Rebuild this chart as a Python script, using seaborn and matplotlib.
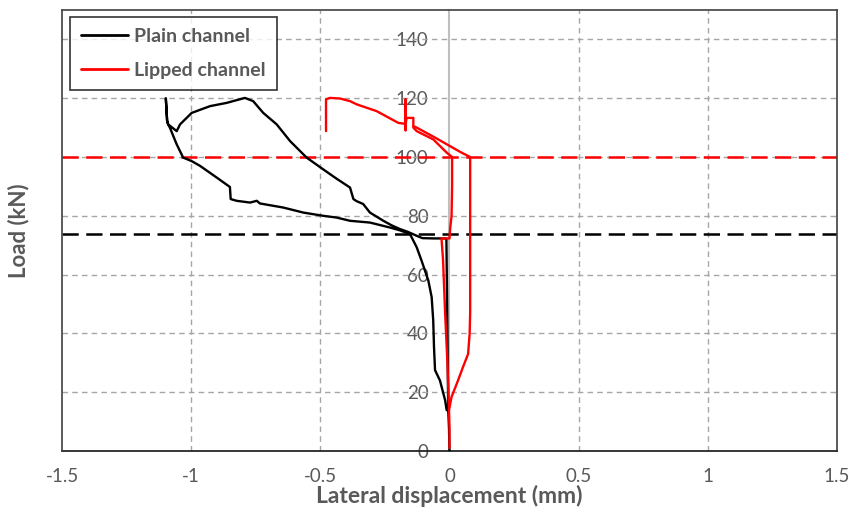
import pandas as pd
import numpy as np
import matplotlib.pyplot as plt
import seaborn as sns
from matplotlib.lines import Line2D

# lateral displacement (mm) and load (kN)
# plain channel, segment 0 only
plain_x = [0.0, -0.002, -0.005, -0.008, -0.012, -0.06, -0.105,
           -0.127, -0.16, -0.192, -0.225, -0.256, -0.308, -0.334, -0.36, -0.372,
           -0.385, -0.44, -0.489, -0.553, -0.617, -0.669, -0.721, -0.76, -0.792,
           -0.863, -0.927, -0.998, -1.043, -1.056, -1.089, -1.093, -1.098, -1.098,
           -1.093, -1.089, -1.082, -1.056, -1.031, -0.998, -0.966, -0.901, -0.85,
           -0.847, -0.824, -0.772, -0.746, -0.734, -0.643, -0.566, -0.489, -0.437,
           -0.385, -0.308, -0.23, -0.19, -0.153, -0.127, -0.108, -0.082, -0.069,
           -0.063, -0.06, -0.056, -0.037, -0.017, -0.011, -0.005]
plain_y = [0, 8, 14, 40, 72.3, 72.3, 72.4,
           73.2, 74.5, 75.5, 76.8, 78.3, 81.1, 84, 85, 85.7,
           89.6, 92.8, 95.8, 99.8, 105.4, 111.1, 115, 119, 120.1,
           118.4, 117.3, 115, 111.1, 108.8, 111.1, 112.2, 119.6, 120,
           112.2, 111.1, 109.9, 104.3, 99.8, 98.6, 97, 93, 89.8,
           85.7, 85.1, 84.5, 85.1, 84.2, 82.8, 81.1, 80, 79.4,
           78.3, 77.7, 76, 75, 73.8, 69.3, 64.7, 58, 52.3,
           44.4, 35.4, 27.5, 24, 17.3, 13.9, 14]
plain_seg = [0] * len(plain_x)

# lipped channel, two segments
lipped_x = [0.0, 0.0, -0.002, -0.008, -0.017, -0.025, -0.031, 0.0, 0.003, 0.008,
            0.01, 0.01, -0.011, -0.063, -0.127, -0.14, -0.14, -0.166, -0.17,
            -0.17, -0.17, -0.172, -0.198, -0.282, -0.359, -0.385, -0.424,
            -0.463, -0.478, -0.478,
            -0.002, 0.008, 0.033, 0.052, 0.072, 0.078, 0.08, 0.08, 0.08,
            0.04, 0.002, -0.06, -0.127, -0.14]
lipped_y = [1, 8, 14, 30, 47, 65, 72.3, 72.3, 76, 80,
            90, 100, 101.5, 106, 108.8, 110, 113.3, 113.3, 111,
            119.6, 109, 111.3, 111.6, 115.6, 117.9, 119, 119.9,
            120.1, 119.6, 108.8,
            14, 18.4, 24, 28.5, 33, 40, 47, 70, 100,
            101.8, 103.7, 106.8, 110, 110.5]
lipped_seg = [0] * 30 + [1] * 14

plain_buckling = 73.8
lipped_buckling = 100

x_ticks = [-1.5, -1, -0.5, 0, 0.5, 1, 1.5]
x_labels = ['-1.5', '-1', '-0.5', '0', '0.5', '1', '1.5']
y_ticks = [0, 20, 40, 60, 80, 100, 120, 140]

df = pd.concat([
    pd.DataFrame({'disp': plain_x, 'load': plain_y, 'seg': plain_seg,
                  'specimen': 'Plain channel'}),
    pd.DataFrame({'disp': lipped_x, 'load': lipped_y, 'seg': lipped_seg,
                  'specimen': 'Lipped channel'}),
], ignore_index=True)

sns.set_theme(style='white')
plt.rcParams['font.family'] = ['Lato', 'DejaVu Sans']

grey = '#595959'
fig = plt.figure(figsize=(8.53, 5.16), dpi=100)
ax = fig.add_axes([62 / 853, 65 / 516, 775 / 853, 441 / 516])

# dashed grid
for y in y_ticks[1:]:
    ax.axhline(y, color='#a6a6a6', lw=1, ls=(0, (4, 3)), zorder=1)
for x in [-1, -0.5, 0.5, 1]:
    ax.axvline(x, color='#a6a6a6', lw=1, ls=(0, (4, 3)), zorder=1)

# buckling load lines
ax.axhline(lipped_buckling, color='#ff0000', lw=1.8, ls=(0, (6.5, 3)), zorder=2)
ax.axhline(plain_buckling, color='black', lw=1.8, ls=(0, (6.5, 3)), zorder=2)

sns.lineplot(data=df, x='disp', y='load', hue='specimen', units='seg',
             estimator=None, sort=False,
             palette={'Plain channel': 'black', 'Lipped channel': '#ff0000'},
             linewidth=1.7, legend=False, ax=ax, zorder=3)

ax.set_xlim(-1.5, 1.5)
ax.set_ylim(0, 150)
ax.set_xticks(x_ticks)
ax.set_xticklabels(x_labels)
ax.set_yticks(y_ticks)

# vertical axis crosses at zero, Excel style
ax.spines['left'].set_position(('data', 0))
ax.spines['left'].set_color('#bfbfbf')
ax.spines['left'].set_linewidth(1.5)
ax.spines['left'].set_zorder(1.5)
ax.spines['bottom'].set_color('#262626')
ax.spines['bottom'].set_linewidth(1.3)
for s in ['top', 'right']:
    ax.spines[s].set_visible(True)
    ax.spines[s].set_color('#404040')
    ax.spines[s].set_linewidth(1.2)
ax.plot([0, 0], [0, 1], transform=ax.transAxes, color='#404040', lw=1.2,
        clip_on=False, zorder=5)

ax.tick_params(axis='y', length=0, pad=15, labelsize=13.5, labelcolor=grey)
ax.tick_params(axis='x', length=0, pad=12, labelsize=13.5, labelcolor=grey)

ax.set_xlabel('Lateral displacement (mm)', fontsize=16.5, fontweight='bold',
              color=grey, labelpad=0)
ax.set_ylabel('Load (kN)', fontsize=16, fontweight='bold', color=grey)
ax.yaxis.set_label_coords(-0.042, 0.5)

handles = [Line2D([], [], color='black', lw=2), Line2D([], [], color='#ff0000', lw=2)]
leg = ax.legend(handles, ['Plain channel', 'Lipped channel'], loc='upper left',
                bbox_to_anchor=(0.01, 0.985), borderaxespad=0, frameon=True,
                fancybox=False, edgecolor='black', handlelength=2.4,
                handletextpad=0.3, labelspacing=0.85, borderpad=0.6,
                prop={'weight': 'bold', 'size': 14}, labelcolor=grey)
leg.get_frame().set_linewidth(1.2)

fig.savefig('out.png', dpi=100)
